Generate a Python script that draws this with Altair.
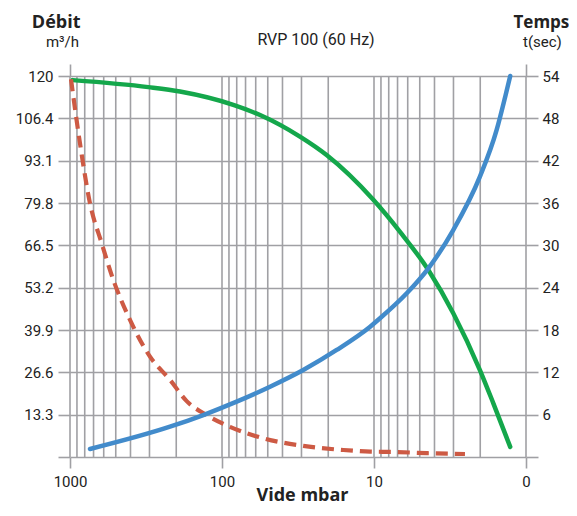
import altair as alt
import pandas as pd

# ---- data ----
# vertical grid positions (vacuum, mbar)
grid_mbar = [1000, 900, 800, 700, 600, 500, 400, 300, 200,
             100, 90, 80, 70, 60, 50, 40, 30, 20,
             10, 9, 8, 7, 6, 5, 4, 3, 2, 1]

# green: Débit (m3/h)
debit_mbar = [960, 305, 189, 84.3, 56.2, 30.7, 20.5, 10.1,
              6.74, 4.39, 3.01, 2.01, 1.64, 1.27]
debit_m3h = [118.7, 116.5, 115.1, 110.9, 107.7, 100.9, 95.1, 81.0,
             70.9, 58.9, 45.3, 27.4, 16.9, 3.2]

# blue: Temps (sec)
temps_mbar = [738.6, 219.9, 132.8, 80.1, 48.3, 29.2, 17.6, 10.6, 9.13, 6.09,
              4.39, 3.01, 2.01, 1.56, 1.37, 1.27]
temps_sec = [1.13, 4.29, 5.95, 7.84, 9.96, 12.33, 15.17, 18.47, 19.66, 23.2,
             26.74, 32.17, 39.73, 46.35, 51.07, 54.0]

# red dashed
red_mbar = [985, 859.7, 738.6, 618.6, 519, 403, 297.6, 219.9, 170.7, 126.1,
            88.6, 53.5, 29.2, 15.9, 10.6, 7.46, 4.5, 2.52]
red_val = [119.0, 98.8, 79.9, 67.3, 55.8, 43.2, 31.6, 24.3, 17.6, 13.2,
           9.5, 5.9, 3.5, 2.2, 1.7, 1.6, 1.2, 0.95]

# tick labels
x_tick_values = [1000, 100, 10, 1]
x_tick_labels = ["1000", "100", "10", "0"]
left_tick_labels = ["", "13.3", "26.6", "39.9", "53.2", "66.5", "79.8", "93.1", "106.4", "120"]
right_tick_labels = ["", "6", "12", "18", "24", "30", "36", "42", "48", "54"]

title_text = "RVP 100 (60 Hz)"
left_title = "Débit"
left_unit = "m³/h"
right_title = "Temps"
right_unit = "t(sec)"
x_title = "Vide mbar"

# ---- style ----
GRID = "#a0a0a4"
GREEN = "#14a74b"
BLUE = "#428bcb"
RED = "#cd5a44"
INK = "#222222"
NARROW = "Roboto, Liberation Sans, sans-serif"
BOLD = "Open Sans, DejaVu Sans, sans-serif"
W, H = 456, 381

xs = alt.Scale(type="log", domain=[1, 1000], reverse=True, nice=False)
left_vals = [i * 120 / 9 for i in range(10)]
right_vals = [i * 6 for i in range(10)]


def arr(lst):
    return "[" + ",".join("'" + s + "'" for s in lst) + "]"


x_label_expr = arr(x_tick_labels) + "[round(3 - log(datum.value)/LN10)]"
left_label_expr = arr(left_tick_labels) + "[round(datum.value*9/120)]"
right_label_expr = arr(right_tick_labels) + "[round(datum.value/6)]"

df_grid = pd.DataFrame({"mbar": grid_mbar})
df_green = pd.DataFrame({"mbar": debit_mbar, "v": debit_m3h})
df_blue = pd.DataFrame({"mbar": temps_mbar, "v": temps_sec})
df_red = pd.DataFrame({"mbar": red_mbar, "v": red_val})

grid_layer = alt.Chart(df_grid).mark_rule(color=GRID, strokeWidth=1.6).encode(
    x=alt.X("mbar:Q", scale=xs,
            axis=alt.Axis(orient="top", values=[1000, 1], tickSize=12, labels=False,
                          domain=False, grid=False, tickColor=GRID, tickWidth=1.6,
                          title=None))
)

green = alt.Chart(df_green).mark_line(
    color=GREEN, strokeWidth=4.5, interpolate="monotone", strokeCap="round"
).encode(
    x=alt.X("mbar:Q", scale=xs,
            axis=alt.Axis(orient="bottom", values=x_tick_values, labelExpr=x_label_expr,
                          labelFlush=False, labelOverlap=False,
                          tickSize=11, tickColor=GRID, tickWidth=1.6, domain=False,
                          grid=False, labelPadding=6, title=x_title,
                          titleX=232, titleY=43, titleBaseline="alphabetic")),
    y=alt.Y("v:Q", scale=alt.Scale(domain=[0, 120], nice=False, zero=True),
            axis=alt.Axis(orient="left", values=left_vals, labelExpr=left_label_expr,
                          grid=True, gridColor=GRID, gridWidth=1.6, gridOpacity=1,
                          tickSize=12, tickColor=GRID, tickWidth=1.6, domain=False,
                          labelPadding=5, labelOverlap=False, labelFlush=False,
                          title=left_title, titleAngle=0,
                          titleAlign="right", titleBaseline="alphabetic",
                          titleX=10, titleY=-49)),
)

red = alt.Chart(df_red).mark_line(
    color=RED, strokeWidth=4.2, interpolate="monotone", strokeDash=[12, 7]
).encode(
    x=alt.X("mbar:Q", scale=xs, axis=None),
    y=alt.Y("v:Q", scale=alt.Scale(domain=[0, 120], nice=False, zero=True), axis=None),
)

blue = alt.Chart(df_blue).mark_line(
    color=BLUE, strokeWidth=4.5, interpolate="monotone", strokeCap="round"
).encode(
    x=alt.X("mbar:Q", scale=xs, axis=None),
    y=alt.Y("v:Q", scale=alt.Scale(domain=[0, 54], nice=False, zero=True),
            axis=alt.Axis(orient="right", values=right_vals, labelExpr=right_label_expr,
                          grid=False, tickSize=12, tickColor=GRID, tickWidth=1.6,
                          domain=False, labelPadding=4, labelOverlap=False,
                          labelFlush=False, title=right_title, titleAngle=0,
                          titleFontSize=17,
                          titleAlign="left", titleBaseline="alphabetic",
                          titleX=-13, titleY=-49)),
)

unit_left = alt.Chart(pd.DataFrame({"t": [left_unit]})).mark_text(
    font=NARROW, fontSize=15, color=INK, align="right", baseline="alphabetic"
).encode(x=alt.value(9), y=alt.value(-29), text="t:N")

unit_right = alt.Chart(pd.DataFrame({"t": [right_unit]})).mark_text(
    font=NARROW, fontSize=15, color=INK, align="left", baseline="alphabetic"
).encode(x=alt.value(-3 + W), y=alt.value(-29), text="t:N")

chart = alt.layer(grid_layer, green, red, blue, unit_left, unit_right).resolve_scale(
    y="independent"
).resolve_axis(x="independent", y="independent").properties(
    width=W, height=H,
    padding={"left": 62, "top": 68, "right": 43, "bottom": 49},
    autosize=alt.AutoSizeParams(type="none"),
    title=alt.TitleParams(title_text, font=NARROW, fontSize=16, fontWeight="normal",
                          color=INK, anchor="middle", frame="group", dx=18, dy=48,
                          baseline="alphabetic", offset=0),
).configure_view(stroke=None).configure_axis(
    labelFont=NARROW, labelFontSize=15, labelColor=INK,
    titleFont=BOLD, titleFontSize=18, titleFontWeight="bold", titleColor=INK,
)

chart.save("out.html", embed_options={"renderer": "svg", "actions": False})
